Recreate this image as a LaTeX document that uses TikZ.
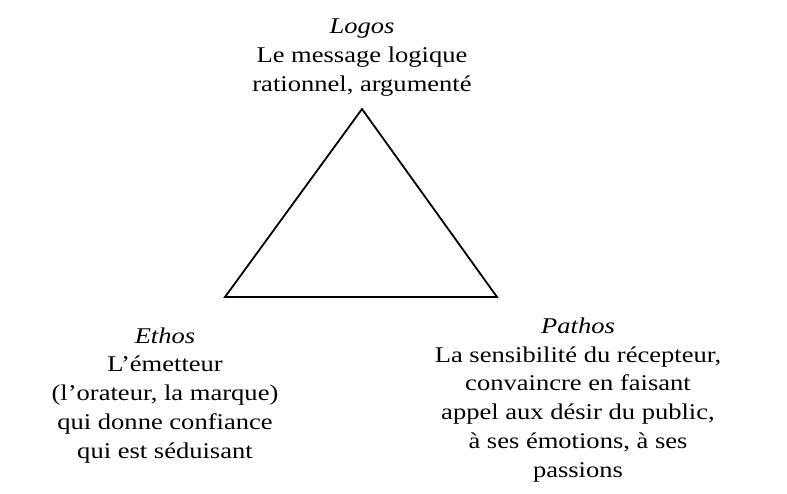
\documentclass[tikz,border=0pt]{standalone}
\usepackage{fontspec}
\setmainfont{Liberation Serif}[FakeStretch=1.18]
\begin{document}
\begin{tikzpicture}[x=1pt,y=-1pt,
  label/.style={align=center,inner sep=0pt,anchor=base,font=\fontsize{22.5}{28.7}\selectfont},
  tri/.style={draw=black,line width=1.8pt,line join=miter}]
\useasboundingbox (0,0) rectangle (787,493);
\coordinate (apex) at (362,109);
\coordinate (bl) at (225,297);
\coordinate (br) at (497,297);
\draw[tri] (apex) -- (bl) -- (br) -- cycle;
\node[label] (logos) at (362,91) {\textit{Logos}\\Le message logique\\rationnel, argumenté};
\node[label] (ethos) at (165,458) {\textit{Ethos}\\L’émetteur\\(l’orateur, la marque)\\qui donne confiance\\qui est séduisant};
\node[label] (pathos) at (578,477) {\textit{Pathos}\\La sensibilité du récepteur,\\convaincre en faisant\\appel aux désir du public,\\à ses émotions, à ses\\passions};
\end{tikzpicture}
\end{document}
